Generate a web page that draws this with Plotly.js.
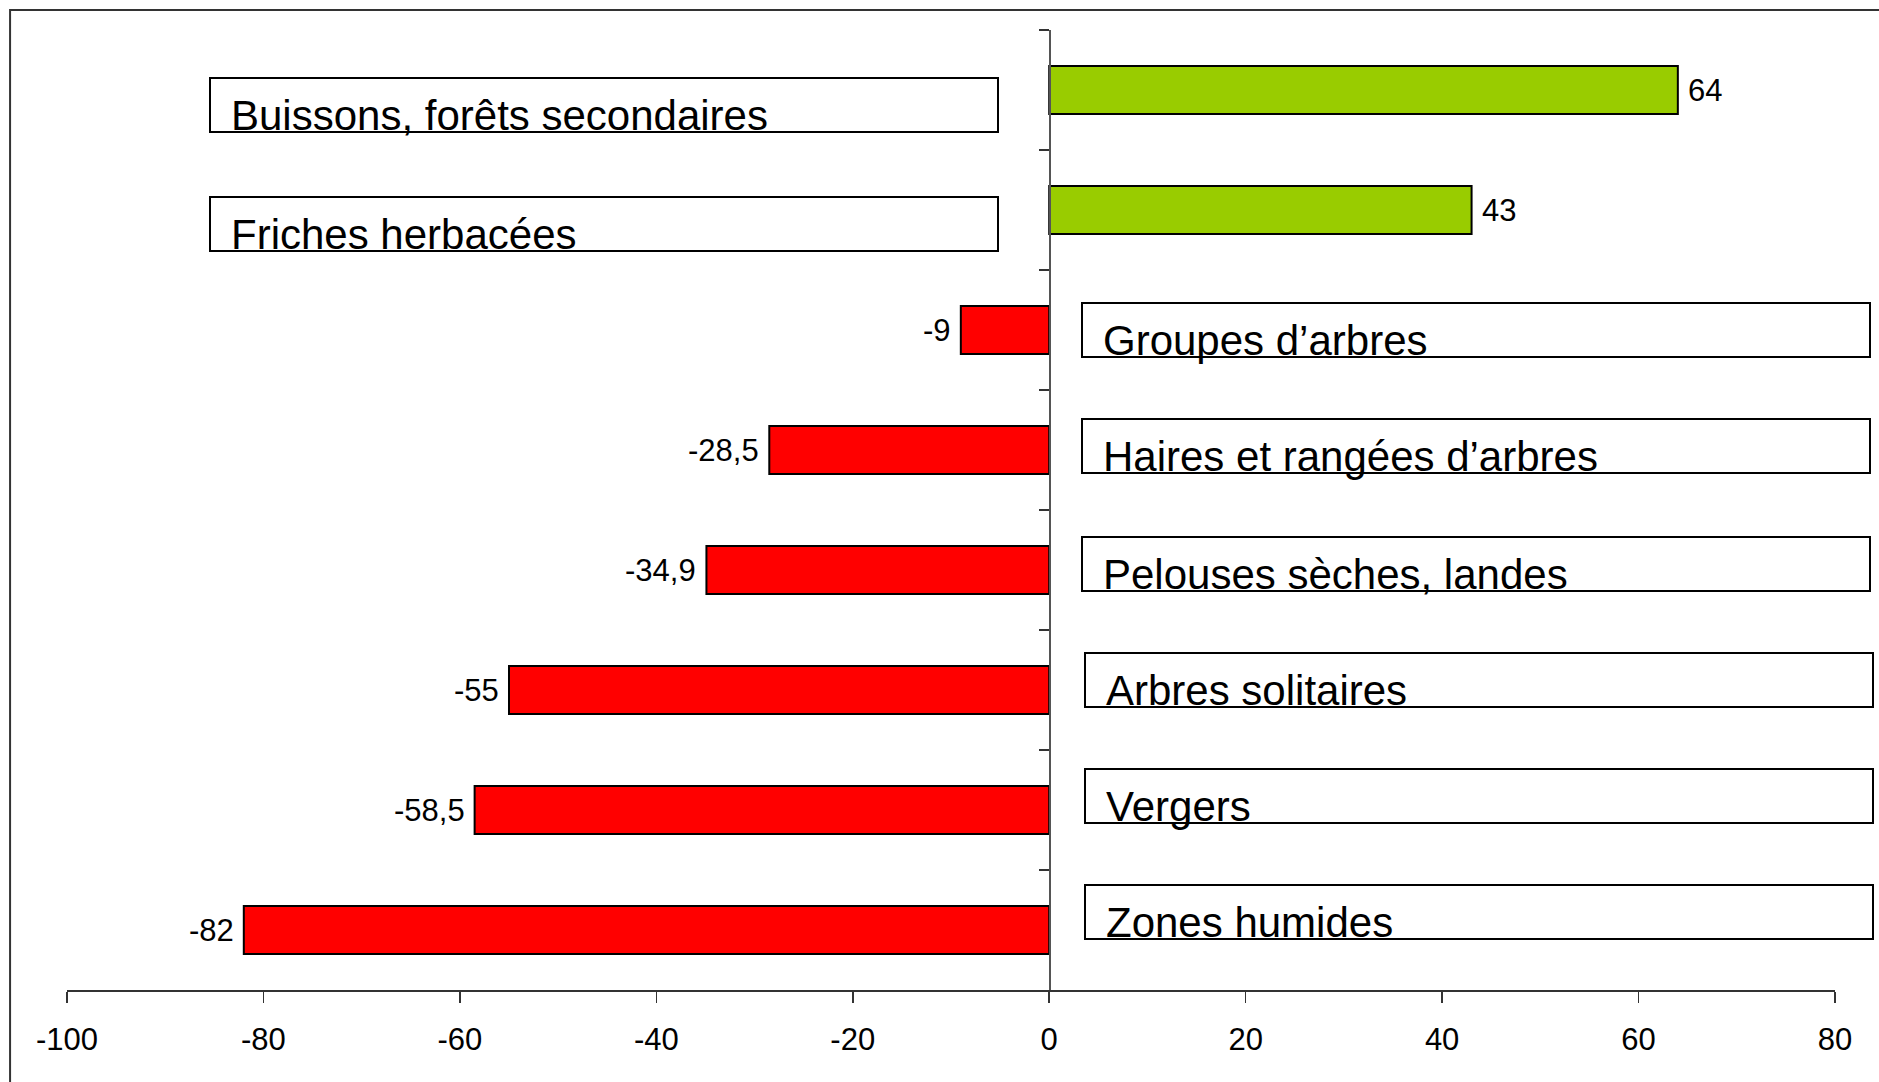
<!DOCTYPE html>
<html>
<head>
<meta charset="utf-8">
<script src="https://cdn.plot.ly/plotly-3.0.1.min.js"></script>
<style>
  html, body { margin: 0; padding: 0; background: #ffffff; }
  #chart { width: 1879px; height: 1082px; }
</style>
</head>
<body>
<div id="chart"></div>
<script>
// ---- data ----
const categories = [
  "Buissons, forêts secondaires",
  "Friches herbacées",
  "Groupes d’arbres",
  "Haires et rangées d’arbres",
  "Pelouses sèches, landes",
  "Arbres solitaires",
  "Vergers",
  "Zones humides"
];
const values = [64, 43, -9, -28.5, -34.9, -55, -58.5, -82];
const xTicks = [-100, -80, -60, -40, -20, 0, 20, 40, 60, 80];

// ---- styling / layout constants ----
const FONT = "Liberation Sans, Arial, Helvetica, sans-serif";
const GREEN = "#99CC00";
const RED = "#FF0000";
const X_MIN = -100, X_MAX = 80;
// vertical offset (px, downward) of each label box relative to its bar centre
const boxDrop = [15, 14, 0, -4, -6, -10, -14, -18];
// left edge (data units) of label box: left side for positive bars, right side for negative
const boxLeftPos = -85.5;
const boxLeftNeg = [3.2, 3.2, 3.2, 3.2, 3.2, 3.5, 3.5, 3.5];
const BOX_W = 786, BOX_H = 52;

const fmt = v => String(v).replace('.', ',');

const barTrace = {
  type: 'bar',
  orientation: 'h',
  y: categories,
  x: values,
  width: 0.4,
  marker: {
    color: values.map(v => v >= 0 ? GREEN : RED),
    line: { color: '#000000', width: 2 }
  },
  hoverinfo: 'skip',
  showlegend: false
};

const annotations = [];
// value labels
categories.forEach((c, i) => {
  const v = values[i];
  annotations.push({
    x: v, y: c, xref: 'x', yref: 'y',
    text: fmt(v),
    showarrow: false,
    xanchor: v >= 0 ? 'left' : 'right',
    yanchor: 'middle',
    xshift: v >= 0 ? 8 : -8,
    font: { family: FONT, size: 31, color: '#000000' }
  });
});
// label boxes
categories.forEach((c, i) => {
  const v = values[i];
  const x0 = v >= 0 ? boxLeftPos : boxLeftNeg[i];
  annotations.push({
    x: x0, y: c, xref: 'x', yref: 'y',
    text: '\u00a0',
    showarrow: false,
    xanchor: 'left', yanchor: 'middle',
    yshift: -boxDrop[i],
    width: BOX_W, height: BOX_H,
    bgcolor: '#ffffff',
    bordercolor: '#000000', borderwidth: 2, borderpad: 0,
    font: { family: FONT, size: 10, color: '#000000' }
  });
});
// label texts
categories.forEach((c, i) => {
  const v = values[i];
  const x0 = v >= 0 ? boxLeftPos : boxLeftNeg[i];
  annotations.push({
    x: x0, y: c, xref: 'x', yref: 'y',
    text: c,
    showarrow: false,
    xanchor: 'left', yanchor: 'middle',
    xshift: 20,
    yshift: -(boxDrop[i] + 10),
    font: { family: FONT, size: 42, color: '#000000' }
  });
});

const layout = {
  width: 1879, height: 1082,
  margin: { l: 67, r: 44, t: 30, b: 92, pad: 0 },
  paper_bgcolor: '#ffffff',
  plot_bgcolor: '#ffffff',
  font: { family: FONT, color: '#000000' },
  showlegend: false,
  bargap: 0.6,
  xaxis: {
    range: [X_MIN, X_MAX],
    tickmode: 'array',
    tickvals: xTicks,
    ticktext: xTicks.map(String),
    showgrid: false,
    zeroline: false,
    showline: true,
    linecolor: '#333333',
    linewidth: 1.5,
    ticks: 'outside',
    ticklen: 11,
    tickwidth: 1.5,
    tickcolor: '#333333',
    ticklabelstandoff: 10,
    tickfont: { family: FONT, size: 31, color: '#000000' },
    fixedrange: true
  },
  yaxis: {
    type: 'category',
    categoryorder: 'array',
    categoryarray: categories,
    range: [categories.length - 0.5, -0.5],
    anchor: 'free',
    position: (0 - X_MIN) / (X_MAX - X_MIN),
    showgrid: false,
    zeroline: false,
    showline: true,
    linecolor: '#555555',
    linewidth: 1.5,
    ticks: 'outside',
    tickson: 'boundaries',
    ticklen: 10,
    tickwidth: 1.5,
    tickcolor: '#333333',
    showticklabels: false,
    fixedrange: true
  },
  shapes: [{
    type: 'rect', xref: 'paper', yref: 'paper',
    x0: -0.0322, x1: 1.04, y0: -0.12, y1: 1.0208,
    line: { color: '#333333', width: 2 },
    fillcolor: 'rgba(0,0,0,0)',
    layer: 'below'
  }],
  annotations: annotations
};

Plotly.newPlot('chart', [barTrace], layout, { displayModeBar: false, staticPlot: true });
</script>
</body>
</html>
